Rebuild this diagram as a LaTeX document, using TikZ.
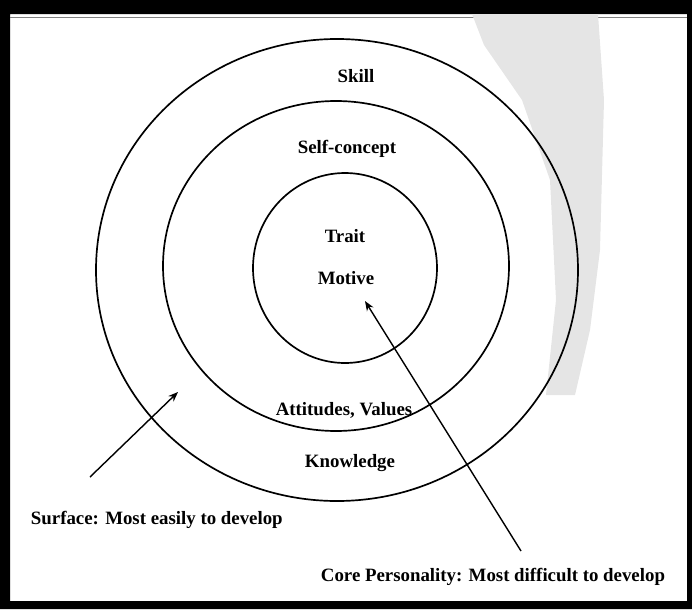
\documentclass[tikz,border=0pt]{standalone}
\usepackage{fontspec}
\setmainfont{Liberation Serif}
\usetikzlibrary{arrows.meta}

\begin{document}
\begin{tikzpicture}[
    x=0.025cm, y=-0.025cm,
    ring/.style={draw, line width=1.2pt},
    layer/.style={font=\bfseries\fontsize{13.4}{15}\selectfont},
    note/.style={layer, anchor=west},
    pointer/.style={-{Stealth[length=7pt, width=5.4pt]}, line width=1pt}
]
\useasboundingbox (0,0) rectangle (692,612);

% Frame
\fill[black, even odd rule] (0,0) rectangle (692,609) (10,14) rectangle (687,601);
\draw[gray, line width=0.4pt] (10,17) -- (687,17);

% Scan shading, top right
\fill[gray!20] (472,14) -- (598,14) -- (604,100) -- (600,250) -- (590,330)
    -- (575,395) -- (546,395) -- (556,300) -- (550,180) -- (522,100)
    -- (484,45) -- cycle;

% Rings
\draw[ring] (337,270) ellipse (241 and 231);
\draw[ring] (336,266) ellipse (173 and 165);
\draw[ring] (345,268) ellipse (92 and 95);

% Labels inside the rings
\node[layer] (skill) at (356,76) {Skill};
\node[layer] (self) at (347,149) {Self-concept};
\node[layer] (trait) at (345,236) {Trait};
\node[layer] (motive) at (346,278) {Motive};
\node[layer] (attitudes) at (344,410) {Attitudes, Values};
\node[layer] (knowledge) at (350,463) {Knowledge};

% Notes
\node[note] (surface) at (26,520) {Surface: Most easily to develop};
\node[note] (core) at (316,577) {Core Personality: Most difficult to develop};

% Arrows
\coordinate (surftail) at (90,477);
\coordinate (surftip) at (178,392);
\coordinate (coretail) at (521,551);
\coordinate (coretip) at (365,301);
\draw[pointer] (surftail) -- (surftip);
\draw[pointer] (coretail) -- (coretip);

\end{tikzpicture}
\end{document}
